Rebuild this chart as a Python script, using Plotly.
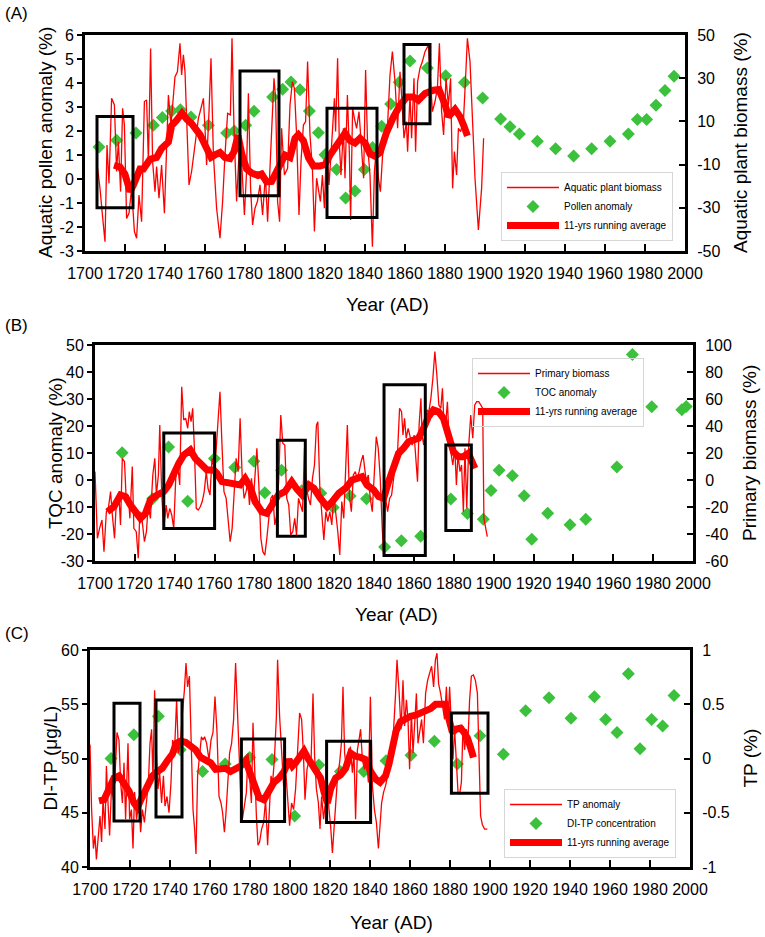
import plotly.graph_objects as go

FONT = "Arial, 'Liberation Sans', Helvetica, sans-serif"
RED = "#ff0000"
GREEN = "#3cc13c"

# ---------------- shared ----------------
YEAR_TICKS = list(range(1700, 2001, 20))

# ---------------- Panel A ----------------
A_left_ticks = [-3, -2, -1, 0, 1, 2, 3, 4, 5, 6]
A_right_ticks = [-50, -30, -10, 10, 30, 50]

# Aquatic plant biomass (%), right axis
A_bio_year = [
    1706.3, 1707.5, 1708.7, 1710.0, 1711.0, 1712.0, 1713.3, 1714.7, 1715.8, 1716.7,
    1717.8, 1718.8, 1719.7, 1720.8, 1722.0, 1723.3, 1724.7, 1725.8, 1727.0, 1728.3,
    1729.7, 1730.8, 1731.7, 1732.8, 1733.8, 1735.0, 1735.8, 1737.0, 1738.3, 1739.7,
    1740.8, 1741.7, 1743.0, 1744.2, 1745.0, 1746.2, 1747.5, 1748.3, 1749.2, 1750.0,
    1750.8, 1752.0, 1753.3, 1755.0, 1756.7, 1758.0, 1759.2, 1760.0, 1760.8, 1762.0,
    1763.0, 1764.2, 1765.8, 1767.5, 1768.8, 1770.0, 1771.3, 1772.7, 1773.5, 1774.5,
    1775.8, 1777.0, 1778.3, 1779.7, 1780.7, 1781.7, 1782.8, 1783.8, 1785.0, 1786.2,
    1787.5, 1788.8, 1790.2, 1791.3, 1792.7, 1793.7, 1794.5, 1795.3, 1796.3, 1797.3,
    1798.3, 1799.7, 1801.3, 1802.5, 1803.7, 1804.7, 1805.8, 1807.0, 1808.0, 1809.2,
    1810.3, 1811.3, 1812.5, 1813.7, 1814.7, 1815.8, 1816.7, 1817.7, 1818.7, 1819.7,
    1820.8, 1822.0, 1823.3, 1824.7, 1825.3, 1826.3, 1827.2, 1828.0, 1829.2, 1830.0,
    1831.2, 1832.2, 1832.8, 1833.8, 1834.7, 1835.8, 1837.0, 1838.3, 1839.3, 1840.3,
    1841.3, 1842.5, 1843.7, 1844.7, 1845.8, 1846.7, 1847.7, 1848.8, 1850.0, 1851.2,
    1852.5, 1853.7, 1855.0, 1856.3, 1857.5, 1858.3, 1859.5, 1860.7, 1861.3, 1862.5,
    1863.3, 1864.5, 1865.3, 1866.3, 1867.5, 1868.7, 1870.0, 1871.7, 1872.7, 1873.7,
    1875.0, 1876.2, 1877.2, 1878.3, 1879.3, 1880.5, 1881.7, 1882.8, 1883.8, 1884.7,
    1885.8, 1886.7, 1887.8, 1889.2, 1890.2, 1891.2, 1892.5, 1893.8, 1895.0, 1896.7,
    1898.3, 1899.3]
A_bio_val = [
    -11.7, -21.0, -33.3, -45.7, -0.9, -18.7, 20.7, 17.6, -13.2, 0.6,
    -22.5, 16.1, 8.3, -34.9, -32.5, -21.0, -41.0, -44.1, -24.1, -36.4,
    19.2, 19.9, -8.6, 43.8, -8.6, -22.5, -10.9, -25.6, -10.2, -32.5,
    -2.4, 22.2, 8.3, 22.2, 30.7, 33.0, 46.2, 31.5, 40.8, 33.0,
    8.3, -19.4, -13.2, 0.6, 11.4, 16.1, 20.7, 6.8, -10.2, 14.5,
    39.2, -5.5, -30.2, -44.1, -27.1, -5.5, 13.7, 13.0, 48.5, 6.8,
    -27.1, -5.5, -8.6, -33.3, -14.8, 23.0, -21.0, -37.9, -30.2, -27.1,
    -19.4, -33.3, -14.8, -36.4, -8.6, 8.3, 30.0, 20.7, -27.1, -36.4,
    6.8, -14.8, -11.7, 17.6, 28.4, 25.3, 3.7, -33.3, -8.6, 8.3,
    9.9, 37.7, 3.7, -11.7, -41.0, -16.3, -22.5, -27.1, -14.8, -30.2,
    0.6, -19.4, -0.9, 20.7, 5.3, 39.2, -0.9, -14.8, 6.8, -16.3,
    22.2, -5.5, -35.6, 16.1, 11.4, 6.8, 14.5, -5.5, -16.3, 33.8,
    -0.9, -14.8, -48.0, -13.2, -0.9, -16.3, -22.5, -5.5, 2.2, 6.8,
    31.5, 42.3, 28.4, 6.8, 33.0, 22.2, 2.2, 9.9, -4.0, 22.2,
    2.2, 30.0, -4.0, 28.4, 34.6, 37.7, 42.3, 45.4, 30.0, 14.5,
    19.2, 25.3, 46.2, 14.5, 3.7, 30.0, 17.6, 30.0, -21.0, -4.0,
    -14.8, 6.8, 5.3, 9.9, 28.4, 48.5, 37.7, 11.4, -16.3, -40.3,
    -21.0, 2.2]

# 11-yr running average of aquatic plant biomass (%), right axis
A_avg_year = [
    1714.5, 1717.5, 1720.0, 1722.5, 1724.2, 1725.8, 1727.5, 1729.2, 1732.5, 1735.8,
    1738.3, 1741.7, 1743.3, 1745.8, 1748.5, 1750.8, 1753.3, 1757.5, 1760.0, 1763.0,
    1765.0, 1767.5, 1770.0, 1772.5, 1774.5, 1776.5, 1778.5, 1780.8, 1783.3, 1786.5,
    1788.3, 1790.8, 1793.3, 1795.8, 1798.3, 1800.0, 1802.5, 1805.0, 1806.7, 1809.2,
    1811.7, 1814.2, 1817.5, 1820.0, 1822.5, 1825.0, 1827.5, 1830.0, 1832.5, 1835.0,
    1837.5, 1840.0, 1842.5, 1845.0, 1847.5, 1850.8, 1854.2, 1857.5, 1860.8, 1864.2,
    1866.7, 1870.0, 1874.2, 1877.0, 1880.0, 1881.7, 1885.0, 1887.5, 1889.5, 1891.2]
A_avg_val = [
    -10.3, -11.1, -14.5, -22.5, -19.5, -15.6, -12.0, -12.0, -7.5, -6.7,
    -2.5, 0.5, 8.0, 10.5, 13.8, 11.1, 9.0, 3.9, -1.1, -6.6,
    -5.5, -4.4, -6.7, -7.2, -4.0, 3.5, -5.5, -12.0, -13.9, -15.0,
    -14.4, -18.0, -17.8, -13.3, -8.9, -5.6, -6.7, 2.2, 3.8, 1.1,
    -6.7, -10.6, -10.6, -10.0, -5.6, -2.2, 0.0, 4.5, 1.1, 0.0,
    2.2, 0.0, -5.0, -6.1, -4.4, 5.0, 12.0, 17.5, 21.3, 21.3,
    19.8, 22.9, 24.4, 24.7, 17.8, 12.2, 15.6, 12.2, 7.8, 3.3]

# Aquatic pollen anomaly (%), left axis
A_pol_year = [
    1707.0, 1715.8, 1725.5, 1734.2, 1738.7, 1743.3, 1747.7, 1753.0, 1761.7, 1770.8,
    1774.7, 1780.3, 1784.5, 1793.8, 1798.8, 1803.0, 1807.5, 1812.2, 1816.7, 1820.0,
    1825.8, 1830.3, 1835.0, 1839.7, 1843.8, 1848.3, 1852.8, 1857.1, 1862.5, 1871.2,
    1880.3, 1889.7, 1898.8, 1907.8, 1912.5, 1917.2, 1926.2, 1935.3, 1944.3, 1953.3,
    1962.5, 1971.7, 1976.2, 1980.8, 1985.5, 1990.0, 1994.5]
A_pol_val = [
    1.33, 1.61, 1.92, 2.24, 2.56, 2.83, 2.89, 2.58, 2.24, 1.92,
    2.0, 2.24, 2.82, 3.42, 3.74, 4.04, 3.72, 2.83, 1.93, 1.01,
    0.4, -0.79, -0.5, 0.4, 1.31, 2.2, 3.12, 4.03, 4.92, 4.62,
    4.3, 4.02, 3.38, 2.5, 2.18, 1.87, 1.57, 1.26, 0.96, 1.26,
    1.57, 1.87, 2.48, 2.48, 3.07, 3.69, 4.28]

# Boxes: (start year, end year, bottom, top) in left-axis units
A_box_x0 = [1706.0, 1777.5, 1821.0, 1859.5]
A_box_x1 = [1724.0, 1797.0, 1846.0, 1872.5]
A_box_y0 = [-1.2, -0.7, -1.6, 2.3]
A_box_y1 = [2.6, 4.5, 2.95, 5.6]

# ---------------- Panel B ----------------
B_left_ticks = [-30, -20, -10, 0, 10, 20, 30, 40, 50]
B_right_ticks = [-60, -40, -20, 0, 20, 40, 60, 80, 100]

# Primary biomass (%), right axis
B_bio_year = [
    1700.0, 1701.2, 1702.3, 1703.5, 1704.5, 1705.7, 1706.7, 1707.8, 1708.7, 1709.8,
    1710.8, 1712.0, 1712.8, 1713.7, 1714.8, 1715.7, 1716.7, 1717.5, 1718.7, 1719.5,
    1720.7, 1721.7, 1722.5, 1723.7, 1724.8, 1725.8, 1726.7, 1727.8, 1729.0, 1730.0,
    1730.8, 1731.8, 1732.5, 1733.5, 1734.5, 1735.7, 1736.5, 1737.5, 1738.5, 1739.5,
    1740.5, 1741.5, 1742.5, 1743.5, 1744.5, 1745.5, 1746.5, 1747.3, 1748.2, 1749.0,
    1749.8, 1750.8, 1751.8, 1752.8, 1753.8, 1754.8, 1755.8, 1756.7, 1757.7, 1758.7,
    1759.7, 1760.7, 1761.7, 1762.7, 1763.7, 1764.7, 1765.8, 1766.8, 1767.8, 1768.8,
    1769.8, 1770.8, 1771.8, 1772.8, 1773.8, 1774.8, 1775.8, 1776.7, 1777.5, 1778.5,
    1779.5, 1780.3, 1781.2, 1782.2, 1783.2, 1784.2, 1785.2, 1786.2, 1787.2, 1788.2,
    1789.2, 1790.2, 1791.2, 1792.2, 1793.2, 1794.2, 1795.2, 1796.2, 1797.2, 1798.2,
    1799.2, 1800.2, 1801.1, 1802.1, 1803.1, 1804.1, 1805.1, 1806.1, 1807.1, 1808.1,
    1809.1, 1810.1, 1811.1, 1811.8, 1812.8, 1813.8, 1814.8, 1815.8, 1816.8, 1817.8,
    1818.8, 1819.8, 1820.8, 1821.8, 1822.8, 1823.8, 1824.8, 1825.8, 1826.6, 1827.6,
    1828.6, 1829.6, 1830.6, 1831.5, 1832.5, 1833.5, 1834.5, 1835.3, 1836.1, 1837.1,
    1838.1, 1839.1, 1840.1, 1841.1, 1842.1, 1843.1, 1844.1, 1844.8, 1845.8, 1846.8,
    1847.8, 1848.8, 1849.8, 1850.8, 1851.8, 1852.8, 1853.8, 1854.5, 1855.3, 1856.1,
    1857.1, 1858.1, 1859.1, 1860.1, 1861.0, 1861.8, 1862.6, 1863.5, 1864.1, 1864.9,
    1865.8, 1866.6, 1867.5, 1868.5, 1869.5, 1870.5, 1871.5, 1872.5, 1873.5, 1874.3,
    1875.1, 1875.9, 1876.8, 1877.6, 1878.5, 1879.5, 1880.5, 1881.3, 1882.1, 1883.1,
    1883.9, 1884.8, 1885.6, 1886.5, 1887.5, 1888.5, 1889.5, 1890.5, 1891.5, 1892.5,
    1893.5, 1894.5, 1895.1, 1896.1, 1896.8]
B_bio_val = [
    6.2, -43.2, -35.8, -29.6, -53.1, -23.5, -21.0, -8.6, -25.9, -43.2,
    -13.6, -11.1, -33.3, 16.0, 13.6, -16.0, -11.1, -28.4, 9.9, -35.8,
    -38.3, -58.0, -23.5, -30.9, -45.7, -38.3, -18.5, -28.4, 3.7, 16.0,
    -11.1, 3.7, 40.7, -11.1, -35.8, -18.5, -28.4, -21.0, -25.9, -35.8,
    1.2, 11.1, -3.7, 69.1, 44.4, 45.7, 38.3, 50.6, 43.2, 53.1,
    25.9, -21.0, -22.2, -19.8, -16.0, -8.6, 6.2, -6.2, -11.1, 16.0,
    8.6, 21.0, 43.2, 65.4, 25.9, -8.6, -13.6, -33.3, -45.7, -35.8,
    -6.2, 16.0, 6.2, 45.7, 3.7, -13.6, -8.6, -1.2, -18.5, 1.2,
    -13.6, 3.7, 23.5, -3.7, -43.2, -53.1, -55.6, -43.2, -28.4, -13.6,
    -11.1, -33.3, -25.9, 1.2, 48.1, 27.2, 25.9, -13.6, -18.5, -40.7,
    -38.3, -28.4, -40.7, -13.6, -18.5, -23.5, 23.5, -6.2, -13.6, -18.5,
    1.2, 11.1, 40.7, 43.2, -6.2, -25.9, -44.4, -23.5, -30.9, -23.5,
    -33.3, -11.1, -23.5, -38.3, -55.6, -16.0, -28.4, 3.7, 40.7, -11.1,
    -23.5, 3.7, 6.2, 1.2, 6.2, 13.6, 18.5, 8.6, -1.2, 3.7,
    -13.6, -23.5, 3.7, 32.1, 23.5, 1.2, -35.8, -55.6, -13.6, -23.5,
    -13.6, -11.1, 1.2, 13.6, 21.0, 53.1, 50.6, 33.3, 45.7, 30.9,
    38.3, 30.9, 25.9, 33.3, 13.6, -1.2, 40.7, 60.5, 33.3, 25.9,
    38.3, 51.9, 50.6, 60.5, 75.3, 95.1, 77.8, 55.6, 53.1, 67.9,
    40.7, 40.7, 58.0, 30.9, 21.0, 11.1, 23.5, -3.7, 18.5, 6.2,
    11.1, -23.5, 23.5, -21.0, 25.9, 48.1, 30.9, 55.6, 58.0, 58.0,
    55.6, 53.1, -28.4, -38.3, -42.0]

B_avg_year = [
    1706.2, 1709.5, 1712.8, 1715.3, 1717.8, 1720.3, 1722.8, 1725.3, 1727.8, 1731.2,
    1734.5, 1737.0, 1739.5, 1742.0, 1744.5, 1747.8, 1750.3, 1752.8, 1756.2, 1759.5,
    1761.2, 1763.7, 1766.2, 1769.5, 1772.8, 1775.3, 1777.8, 1780.3, 1783.7, 1786.2,
    1788.7, 1792.0, 1795.3, 1798.7, 1801.3, 1804.0, 1807.3, 1809.8, 1813.1, 1816.5,
    1819.0, 1822.3, 1825.6, 1829.0, 1831.5, 1834.0, 1836.5, 1839.8, 1842.3, 1844.8,
    1847.3, 1849.8, 1852.3, 1854.8, 1857.3, 1859.8, 1862.3, 1864.8, 1867.3, 1869.8,
    1872.3, 1874.8, 1877.3, 1879.8, 1882.3, 1884.8, 1887.3, 1889.0, 1890.6]
B_avg_val = [
    -23.5, -19.8, -11.1, -12.3, -18.5, -24.7, -28.4, -24.7, -14.8, -11.1,
    -8.6, -3.7, 4.9, 12.3, 18.5, 22.2, 16.0, 12.3, 7.4, 7.4,
    4.9, -1.2, -1.7, -2.5, -3.7, 1.2, -4.9, -16.0, -23.5, -24.7,
    -18.5, -11.1, -8.6, -1.2, -6.8, -11.1, -3.7, -6.2, -13.6, -19.8,
    -16.0, -9.9, -6.2, 0.0, 1.2, 2.5, -3.7, -7.4, -12.3, -13.6,
    -1.2, 11.1, 19.8, 23.5, 28.4, 29.6, 30.9, 38.3, 46.9, 51.9,
    50.6, 45.7, 33.3, 21.0, 17.3, 17.3, 19.8, 13.6, 8.6]

# TOC anomaly (%), left axis
B_toc_year = [
    1713.6, 1728.9, 1736.9, 1746.5, 1759.9, 1770.1, 1779.7, 1785.2, 1793.6, 1803.7,
    1813.3, 1819.5, 1828.0, 1836.2, 1845.3, 1853.7, 1863.4, 1878.5, 1886.8, 1894.8,
    1898.7, 1902.7, 1909.4, 1915.3, 1919.1, 1927.1, 1938.3, 1946.2, 1961.8, 1969.6,
    1979.3, 1994.4, 1996.6]
B_toc_val = [
    10.1, -6.9, 12.2, -7.9, 8.0, 4.6, 6.9, -4.7, 3.6, -4.0,
    -4.9, -10.2, -5.9, -6.9, -24.8, -22.5, -20.8, -7.0, -12.4, -14.5,
    -3.9, 3.6, 1.6, -5.8, -21.9, -12.3, -16.6, -14.5, 4.8, 46.5,
    27.1, 26.0, 27.2]

B_box_x0 = [1734.5, 1791.5, 1845.0, 1876.0]
B_box_x1 = [1760.0, 1805.5, 1865.7, 1888.8]
B_box_y0 = [-18.0, -20.8, -28.0, -18.7]
B_box_y1 = [17.4, 14.7, 35.3, 13.0]

# ---------------- Panel C ----------------
C_left_ticks = [40, 45, 50, 55, 60]
C_right_ticks = [-1, -0.5, 0, 0.5, 1]

# TP anomaly (%), right axis
C_tp_year = [
    1700.0, 1700.8, 1701.7, 1702.5, 1703.2, 1704.2, 1705.0, 1705.8, 1706.5, 1707.5,
    1708.2, 1709.0, 1709.8, 1710.8, 1711.7, 1712.5, 1713.5, 1714.5, 1715.3, 1716.2,
    1717.0, 1717.8, 1719.0, 1719.8, 1720.7, 1721.5, 1722.3, 1723.3, 1724.5, 1725.3,
    1726.2, 1727.2, 1728.2, 1729.2, 1730.0, 1730.8, 1731.5, 1732.3, 1733.2, 1734.0,
    1734.8, 1735.8, 1736.7, 1737.5, 1738.5, 1739.5, 1740.5, 1741.3, 1742.3, 1743.3,
    1744.2, 1745.2, 1746.2, 1747.2, 1748.0, 1748.8, 1749.7, 1750.5, 1751.5, 1752.3,
    1753.0, 1753.8, 1754.7, 1755.7, 1756.5, 1757.3, 1758.3, 1759.5, 1760.5, 1761.5,
    1762.5, 1763.5, 1764.5, 1765.5, 1766.3, 1767.2, 1768.0, 1768.8, 1769.8, 1770.8,
    1771.8, 1772.8, 1773.7, 1774.5, 1775.3, 1776.2, 1777.2, 1778.2, 1779.0, 1779.8,
    1780.7, 1781.5, 1782.3, 1783.2, 1784.0, 1784.8, 1785.8, 1786.8, 1787.8, 1788.8,
    1789.7, 1790.5, 1791.3, 1792.2, 1793.2, 1793.8, 1794.8, 1795.8, 1796.8, 1797.8,
    1798.8, 1799.8, 1800.8, 1801.8, 1802.8, 1803.8, 1804.8, 1805.8, 1806.7, 1807.5,
    1808.5, 1809.5, 1810.5, 1811.5, 1812.3, 1813.2, 1814.2, 1815.0, 1815.8, 1816.8,
    1817.8, 1818.7, 1819.5, 1820.3, 1821.2, 1822.0, 1822.8, 1823.8, 1824.8, 1825.7,
    1826.5, 1827.3, 1828.2, 1829.2, 1830.2, 1831.2, 1832.0, 1832.8, 1833.7, 1834.5,
    1835.3, 1836.2, 1837.2, 1838.2, 1839.2, 1840.2, 1841.2, 1842.2, 1843.2, 1844.2,
    1845.0, 1845.8, 1846.8, 1847.8, 1848.8, 1849.8, 1850.8, 1851.8, 1852.8, 1853.5,
    1854.5, 1855.5, 1856.5, 1857.3, 1858.2, 1859.0, 1859.8, 1860.7, 1861.5, 1862.3,
    1863.2, 1864.0, 1865.0, 1865.8, 1866.7, 1867.8, 1868.8, 1869.8, 1870.8, 1871.8,
    1872.7, 1873.5, 1874.3, 1875.3, 1876.3, 1877.3, 1878.2, 1879.0, 1879.8, 1880.7,
    1881.5, 1882.3, 1883.2, 1884.0, 1884.8, 1885.7, 1886.5, 1887.3, 1888.2, 1889.0,
    1889.8, 1890.7, 1891.7, 1892.7, 1893.7, 1894.5, 1895.3, 1896.2, 1897.3, 1898.7]
C_tp_val = [
    0.13, -0.47, -0.83, -0.71, -0.93, -0.65, -0.53, -0.77, -0.38, -0.65,
    -0.07, -0.41, -0.71, -0.25, -0.38, -0.16, 0.24, 0.17, -0.22, -0.41,
    -0.04, -0.56, 0.14, -0.56, -0.47, -0.83, -0.31, -0.56, -0.38, -0.68,
    -0.47, -0.59, -0.38, -0.22, 0.14, 0.27, -0.19, 0.63, 0.05, -0.28,
    -0.13, -0.41, -0.16, -0.44, -0.35, -0.50, -0.22, 0.17, 0.08, 0.54,
    0.05, 0.14, 0.42, 0.63, 0.88, 0.66, 0.76, 0.20, -0.47, -0.65,
    -0.88, -0.16, 0.05, 0.20, 0.17, 0.20, 0.14, -0.01, 0.17, 0.24,
    0.57, 0.24, -0.35, -0.41, -0.50, -0.68, -0.50, -0.28, 0.05, 0.14,
    0.36, 0.88, 0.45, -0.10, -0.31, -0.56, -0.44, -0.31, 0.05, -0.22,
    -0.41, 0.33, -0.10, -0.53, -0.80, -0.77, -0.65, -0.59, -0.38, -0.80,
    -0.47, -0.16, -0.22, -0.01, 0.39, 0.91, 0.39, 0.05, -0.25, -0.10,
    -0.38, -0.62, -0.41, -0.47, -0.28, 0.05, 0.42, 0.36, 0.05, -0.38,
    -0.10, -0.01, -0.04, 0.60, 0.02, -0.28, -0.41, -0.65, -0.35, -0.56,
    -0.38, -0.22, -0.47, -0.62, -0.87, -0.65, -0.38, -0.16, -0.04, 0.14,
    0.66, 0.05, -0.10, -0.01, 0.11, -0.13, 0.05, -0.56, 0.08, 0.17,
    0.27, -0.01, -0.10, -0.01, -0.22, 0.57, -0.25, -0.47, -0.59, -0.83,
    -0.65, -0.41, -0.31, -0.25, -0.16, -0.01, 0.08, 0.27, 0.60, 0.91,
    0.63, 0.27, 0.72, 0.30, 0.54, 0.36, -0.10, 0.42, 0.05, 0.36,
    0.60, 0.14, 0.27, 0.36, 0.14, 0.60, 0.72, 0.79, 0.85, 0.66,
    0.91, 0.97, 0.69, 0.60, 0.48, 0.36, 0.66, 0.30, 0.66, 0.24,
    -0.01, 0.27, -0.10, -0.31, -0.33, -0.22, 0.30, 0.08, 0.27, 0.17,
    0.54, 0.76, 0.77, 0.72, 0.60, -0.01, -0.53, -0.61, -0.65, -0.65]

C_avg_year = [
    1704.5, 1707.0, 1709.5, 1712.0, 1714.5, 1717.0, 1719.5, 1722.0, 1723.7, 1726.2,
    1728.7, 1731.2, 1733.7, 1736.2, 1738.7, 1741.2, 1743.2, 1745.3, 1747.8, 1750.3,
    1752.8, 1755.3, 1757.8, 1760.3, 1762.8, 1765.3, 1767.8, 1770.3, 1772.8, 1775.3,
    1777.8, 1779.5, 1782.0, 1784.5, 1787.0, 1789.5, 1792.0, 1794.5, 1797.0, 1799.5,
    1801.2, 1802.8, 1804.5, 1807.0, 1808.7, 1811.2, 1813.7, 1815.3, 1817.0, 1818.7,
    1820.3, 1822.8, 1825.3, 1827.8, 1830.3, 1832.8, 1835.3, 1837.8, 1840.3, 1842.8,
    1845.0, 1847.8, 1849.5, 1851.2, 1853.0, 1855.3, 1857.8, 1860.3, 1862.8, 1865.3,
    1867.8, 1870.3, 1872.8, 1875.3, 1877.8, 1879.5, 1881.2, 1882.8, 1885.3, 1887.0,
    1888.7, 1890.3, 1891.7]
C_avg_val = [
    -0.39, -0.38, -0.28, -0.18, -0.16, -0.22, -0.30, -0.41, -0.45, -0.35,
    -0.24, -0.16, -0.12, -0.09, -0.02, 0.04, 0.14, 0.16, 0.15, 0.11,
    0.08, 0.01, -0.01, -0.04, -0.10, -0.10, -0.09, -0.12, -0.10, -0.07,
    -0.02, -0.10, -0.25, -0.36, -0.38, -0.30, -0.22, -0.18, -0.12, -0.01,
    -0.07, -0.04, 0.01, 0.07, 0.01, -0.07, -0.15, -0.18, -0.31, -0.41,
    -0.28, -0.18, -0.15, -0.09, 0.05, 0.02, 0.01, -0.01, -0.12, -0.19,
    -0.22, -0.16, -0.05, 0.10, 0.25, 0.34, 0.37, 0.39, 0.40, 0.42,
    0.43, 0.46, 0.50, 0.50, 0.50, 0.36, 0.24, 0.27, 0.28, 0.24,
    0.19, 0.10, 0.01]

# DI-TP concentration (ug/L), left axis
C_ditp_year = [
    1710.5, 1721.9, 1734.2, 1745.1, 1756.3, 1767.6, 1779.8, 1791.0, 1802.3, 1814.4,
    1825.2, 1836.9, 1848.0, 1860.5, 1872.2, 1883.7, 1895.0, 1906.7, 1917.8, 1929.5,
    1940.5, 1952.2, 1957.8, 1963.5, 1969.2, 1975.0, 1980.8, 1986.3, 1992.0]
C_ditp_val = [
    50.0, 52.2, 53.9, 50.8, 48.8, 49.5, 50.1, 49.9, 44.7, 49.4,
    48.8, 48.8, 49.8, 50.3, 51.6, 49.5, 52.1, 50.4, 54.4, 55.6,
    53.7, 55.7, 53.6, 52.4, 57.8, 50.9, 53.6, 53.0, 55.8]

C_box_x0 = [1712.0, 1733.0, 1775.7, 1818.3, 1880.7]
C_box_x1 = [1725.0, 1746.0, 1797.3, 1840.3, 1899.0]
C_box_y0 = [44.25, 44.6, 44.2, 44.1, 46.8]
C_box_y1 = [55.1, 55.4, 51.8, 51.6, 54.2]

# ---------------- figure ----------------
W, H = 765, 937

panels = [
    dict(tag="(A)", xa="x", ya="y", yb="y2", leg="legend",
         px=(85, 685), py=(35, 251), yl=(-3, 6), yr=(-50, 50),
         lt=A_left_ticks, rt=A_right_ticks,
         line_x=A_bio_year, line_y=A_bio_val, line_name="Aquatic plant biomass",
         pt_x=A_pol_year, pt_y=A_pol_val, pt_name="Pollen anomaly",
         avg_x=A_avg_year, avg_y=A_avg_val,
         boxes=(A_box_x0, A_box_x1, A_box_y0, A_box_y1),
         ltitle="Aquatic pollen anomaly (%)", rtitle="Aquatic plant biomass (%)",
         leg_pos=(501, 172), tag_y=13, rt_dx=55, xt_dy=53),
    dict(tag="(B)", xa="x2", ya="y3", yb="y4", leg="legend2",
         px=(95, 693), py=(345, 561), yl=(-30, 50), yr=(-60, 100),
         lt=B_left_ticks, rt=B_right_ticks,
         line_x=B_bio_year, line_y=B_bio_val, line_name="Primary biomass",
         pt_x=B_toc_year, pt_y=B_toc_val, pt_name="TOC anomaly",
         avg_x=B_avg_year, avg_y=B_avg_val,
         boxes=(B_box_x0, B_box_x1, B_box_y0, B_box_y1),
         ltitle="TOC anomaly (%)", rtitle="Primary biomass (%)",
         leg_pos=(472, 358), tag_y=325, rt_dx=56, xt_dy=53),
    dict(tag="(C)", xa="x3", ya="y5", yb="y6", leg="legend3",
         px=(90, 690), py=(650, 867), yl=(40, 60), yr=(-1, 1),
         lt=C_left_ticks, rt=C_right_ticks,
         line_x=C_tp_year, line_y=C_tp_val, line_name="TP anomaly",
         pt_x=C_ditp_year, pt_y=C_ditp_val, pt_name="DI-TP concentration",
         avg_x=C_avg_year, avg_y=C_avg_val,
         boxes=(C_box_x0, C_box_x1, C_box_y0, C_box_y1),
         ltitle="DI-TP (μg/L)", rtitle="TP (%)",
         leg_pos=(504, 789), tag_y=633, rt_dx=60, xt_dy=55),
]

fig = go.Figure()
layout = dict(width=W, height=H, margin=dict(l=0, r=0, t=0, b=0),
              paper_bgcolor="white", plot_bgcolor="white",
              font=dict(family=FONT, color="black"), showlegend=True)
shapes, annotations = [], []


def axkey(a):
    return ("xaxis" if a[0] == "x" else "yaxis") + a[1:]


def fmt(v):
    return ("%g" % v)


for p in panels:
    xdom = [p["px"][0] / W, p["px"][1] / W]
    ydom = [1 - p["py"][1] / H, 1 - p["py"][0] / H]
    tickfont = dict(family=FONT, size=16, color="black")
    layout[axkey(p["xa"])] = dict(
        domain=xdom, anchor=p["ya"], range=[1700, 2000],
        tickmode="array", tickvals=YEAR_TICKS, ticktext=[str(t) for t in YEAR_TICKS],
        ticks="inside", ticklen=7, tickwidth=2, tickcolor="black",
        showline=True, linewidth=3, linecolor="black", mirror=True,
        showgrid=False, zeroline=False, tickfont=tickfont,
        ticklabelstandoff=6, automargin=False)
    layout[axkey(p["ya"])] = dict(
        domain=ydom, anchor=p["xa"], range=list(p["yl"]),
        tickmode="array", tickvals=p["lt"], ticktext=[fmt(t) for t in p["lt"]],
        ticks="outside", ticklen=5, tickwidth=2, tickcolor="black",
        showline=True, linewidth=3, linecolor="black", mirror=True,
        showgrid=False, zeroline=False, tickfont=tickfont, automargin=False)
    layout[axkey(p["yb"])] = dict(
        overlaying=p["ya"], side="right", anchor=p["xa"], range=list(p["yr"]),
        tickmode="array", tickvals=p["rt"], ticktext=[fmt(t) for t in p["rt"]],
        ticks="inside", ticklen=6, tickwidth=2, tickcolor="black",
        showline=True, linewidth=3, linecolor="black",
        showgrid=False, zeroline=False, tickfont=tickfont,
        ticklabelstandoff=6, automargin=False)

    fig.add_trace(go.Scatter(
        x=p["line_x"], y=p["line_y"], xaxis=p["xa"], yaxis=p["yb"],
        mode="lines", line=dict(color=RED, width=1.3),
        name=p["line_name"], legend=p["leg"]))
    fig.add_trace(go.Scatter(
        x=p["pt_x"], y=p["pt_y"], xaxis=p["xa"], yaxis=p["ya"],
        mode="markers", marker=dict(symbol="diamond", size=10, color=GREEN,
                                    line=dict(width=0)),
        name=p["pt_name"], legend=p["leg"]))
    fig.add_trace(go.Scatter(
        x=p["avg_x"], y=p["avg_y"], xaxis=p["xa"], yaxis=p["yb"],
        mode="lines", line=dict(color=RED, width=7),
        name="11-yrs running average", legend=p["leg"]))

    bx0, bx1, by0, by1 = p["boxes"]
    for a, b, c, d in zip(bx0, bx1, by0, by1):
        shapes.append(dict(type="rect", xref=p["xa"], yref=p["ya"],
                           x0=a, x1=b, y0=c, y1=d,
                           line=dict(color="black", width=3),
                           fillcolor="rgba(0,0,0,0)", layer="above"))

    layout[p["leg"]] = dict(
        x=p["leg_pos"][0] / W, y=1 - p["leg_pos"][1] / H,
        xanchor="left", yanchor="top",
        bgcolor="rgba(255,255,255,0)", bordercolor="#d6d6d6", borderwidth=1,
        font=dict(family=FONT, size=10, color="black"),
        tracegroupgap=0, itemwidth=52)

    cy = (p["py"][0] + p["py"][1]) / 2
    cx = (p["px"][0] + p["px"][1]) / 2
    annotations.append(dict(text=p["tag"], x=3 / W, y=1 - p["tag_y"] / H,
                            xref="paper", yref="paper", xanchor="left",
                            yanchor="middle", showarrow=False,
                            font=dict(family=FONT, size=17)))
    annotations.append(dict(text=p["ltitle"], x=(p["px"][0] - 40) / W,
                            y=1 - cy / H, xref="paper", yref="paper",
                            xanchor="center", yanchor="middle", textangle=-90,
                            showarrow=False, font=dict(family=FONT, size=19)))
    annotations.append(dict(text=p["rtitle"], x=(p["px"][1] + p["rt_dx"]) / W,
                            y=1 - cy / H, xref="paper", yref="paper",
                            xanchor="center", yanchor="middle", textangle=-90,
                            showarrow=False, font=dict(family=FONT, size=19)))
    annotations.append(dict(text="Year (AD)", x=(cx + 2) / W,
                            y=1 - (p["py"][1] + p["xt_dy"]) / H, xref="paper",
                            yref="paper", xanchor="center", yanchor="middle",
                            showarrow=False, font=dict(family=FONT, size=19)))

layout["shapes"] = shapes
layout["annotations"] = annotations
fig.update_layout(**layout)
fig.write_html(
    "out.html",
    config={"displayModeBar": False},
    post_script="document.body.style.margin='0';document.body.style.overflow='hidden';")
